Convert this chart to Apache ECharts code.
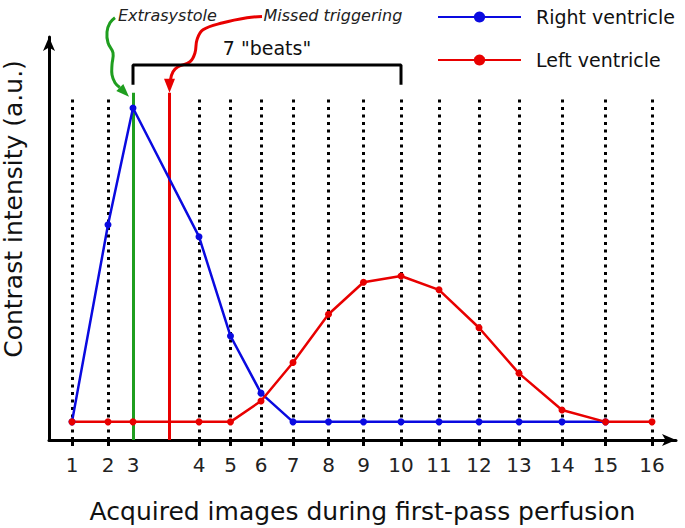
<!DOCTYPE html>
<html>
<head>
<meta charset="utf-8">
<script src="https://cdn.jsdelivr.net/npm/echarts@6/dist/echarts.min.js"></script>
<style>
  html, body { margin: 0; padding: 0; background: #fff; }
  #chart { width: 685px; height: 528px; }
</style>
</head>
<body>
<div id="chart"></div>
<script>
// acquisition time of each image (a.u.), the images are not evenly spaced
const imageTimes = [23, 59, 84, 150, 181.5, 212, 244, 279.5, 314.5, 352, 390, 430, 470, 513, 556.5, 603]
const imageLabels = ['1', '2', '3', '4', '5', '6', '7', '8', '9', '10', '11', '12', '13', '14', '15', '16']
const missedTime = 120.5

// contrast intensity (a.u.)
const rightVentricle = [5.5, 65.2, 100.6, 61.6, 31.5, 14.2, 5.5, 5.5, 5.5, 5.5, 5.5, 5.5, 5.5, 5.5, 5.5]
const leftVentricle = [5.5, 5.5, 5.5, 5.5, 5.5, 11.8, 23.5, 38.1, 47.8, 49.7, 45.5, 34.0, 20.2, 9.1, 5.5, 5.5]

const seriesNames = ['Right ventricle', 'Left ventricle']
const beatsText = '7 "beats"'

const font = 'DejaVu Sans'
const blue = '#0a0ae0'
const red = '#e80000'
const green = '#1f9e1f'

const gridTop = 104.5   // top of the dotted image lines
const markTop = 105.2   // top of the extrasystole / missed lines
const bracketTop = 113.6
const bracketLeg = 107.6

var chart = echarts.init(document.getElementById('chart'), null, { renderer: 'svg' })

const dotted = imageTimes
  .filter((t, i) => i !== 2)
  .map(t => [{ coord: [t, 0] }, { coord: [t, gridTop] }])

const option = {
  animation: false,
  textStyle: { fontFamily: font },
  grid: { left: 49, right: 9, top: 37, bottom: 88, outerBoundsMode: 'none' },
  legend: {
    data: seriesNames,
    orient: 'vertical',
    left: 437,
    top: 7,
    padding: 0,
    itemWidth: 83,
    itemHeight: 14,
    itemGap: 23,
    textStyle: { fontFamily: font, fontSize: 19, color: '#111', lineHeight: 20, padding: [0, 0, 0, 10] }
  },
  xAxis: {
    type: 'value',
    min: 0,
    max: 627,
    name: 'Acquired images during first-pass perfusion',
    nameLocation: 'middle',
    nameGap: 59,
    nameMoveOverlap: false,
    nameTextStyle: { fontFamily: font, fontSize: 25, color: '#111' },
    axisLine: { lineStyle: { color: '#000', width: 3 }, symbol: ['none', 'arrow'], symbolSize: [9, 14] },
    axisTick: {
      show: true,
      customValues: imageTimes.filter((t, i) => i !== 2),
      length: 6,
      lineStyle: { color: '#000', width: 3 }
    },
    axisLabel: {
      customValues: imageTimes,
      margin: 15,
      fontFamily: font,
      fontSize: 20,
      color: '#222',
      formatter: v => imageLabels[imageTimes.indexOf(v)]
    },
    splitLine: { show: false }
  },
  yAxis: {
    type: 'value',
    min: 0,
    max: 122.1,
    axisLine: { show: true, lineStyle: { color: '#000', width: 3 }, symbol: ['none', 'arrow'], symbolSize: [9, 14] },
    axisTick: { show: false },
    axisLabel: { show: false },
    splitLine: { show: false }
  },
  series: [
    {
      name: 'bracket',
      type: 'line',
      symbol: 'none',
      lineStyle: { color: '#000', width: 3 },
      data: [
        [imageTimes[2], bracketLeg], [imageTimes[2], bracketTop],
        [imageTimes[9], bracketTop], [imageTimes[9], bracketLeg]
      ],
      markLine: {
        z: 1,
        silent: true,
        symbol: ['none', 'none'],
        label: { show: false },
        lineStyle: { color: '#000', width: 3, type: [3, 4.5] },
        data: dotted.concat([
          [{ coord: [imageTimes[2], 0], lineStyle: { color: green, type: 'solid', width: 3 } }, { coord: [imageTimes[2], markTop] }],
          [{ coord: [missedTime, 0], lineStyle: { color: red, type: 'solid', width: 3 } }, { coord: [missedTime, markTop] }]
        ])
      }
    },
    {
      name: seriesNames[0],
      type: 'line',
      symbol: 'circle',
      symbolSize: 7,
      color: blue,
      lineStyle: { color: blue, width: 2.5 },
      data: rightVentricle.map((v, i) => [imageTimes[i], v])
    },
    {
      name: seriesNames[1],
      type: 'line',
      symbol: 'circle',
      symbolSize: 7,
      color: red,
      lineStyle: { color: red, width: 2.5 },
      data: leftVentricle.map((v, i) => [imageTimes[i], v])
    }
  ]
}

chart.setOption(option)

// annotations anchored on the tops of the extrasystole / missed trigger lines
const g = chart.convertToPixel({ gridIndex: 0 }, [imageTimes[2], markTop])
const r = chart.convertToPixel({ gridIndex: 0 }, [missedTime, markTop])
const b1 = chart.convertToPixel({ gridIndex: 0 }, [imageTimes[2], bracketTop])
const b2 = chart.convertToPixel({ gridIndex: 0 }, [imageTimes[9], bracketTop])

const off = (p, pts) => pts.map(d => [p[0] + d[0], p[1] + d[1]])

chart.setOption({
  graphic: [
    {
      type: 'polyline',
      shape: { points: off(g, [[-18, -75], [-23, -70], [-26, -61], [-25, -50], [-20, -40], [-21, -28], [-21, -18], [-18, -10], [-13.2, -5.2]]), smooth: 0.4 },
      style: { stroke: green, lineWidth: 3, fill: null }
    },
    {
      type: 'polygon',
      shape: { points: off(g, [[-4, 4], [-16.7, -1.7], [-9.7, -8.7]]) },
      style: { fill: green }
    },
    {
      type: 'polyline',
      shape: { points: off(r, [[92.5, -76.3], [77.5, -75], [53.5, -70], [33.5, -63], [27.5, -53], [25.5, -40], [20.5, -31], [8.5, -26], [3.5, -21], [1, -13]]), smooth: 0.4 },
      style: { stroke: red, lineWidth: 3, fill: null }
    },
    {
      type: 'polygon',
      shape: { points: off(r, [[0, 0], [-5.5, -14], [5.5, -14]]) },
      style: { fill: red }
    },
    {
      type: 'text',
      x: g[0] - 15, y: 15,
      style: { text: 'Extrasystole', font: 'italic 16px "DejaVu Sans"', fill: '#222', verticalAlign: 'middle' }
    },
    {
      type: 'text',
      x: r[0] + 94, y: 15,
      style: { text: 'Missed triggering', font: 'italic 16px "DejaVu Sans"', fill: '#222', verticalAlign: 'middle' }
    },
    {
      type: 'text',
      x: (b1[0] + b2[0]) / 2, y: b1[1] - 17,
      style: { text: beatsText, font: '19px "DejaVu Sans"', fill: '#111', align: 'center', verticalAlign: 'middle' }
    },
    {
      type: 'text',
      x: 13, y: 209,
      rotation: Math.PI / 2,
      style: { text: 'Contrast intensity (a.u.)', font: '25px "DejaVu Sans"', fill: '#111', align: 'center', verticalAlign: 'middle' }
    }
  ]
})
</script>
</body>
</html>
